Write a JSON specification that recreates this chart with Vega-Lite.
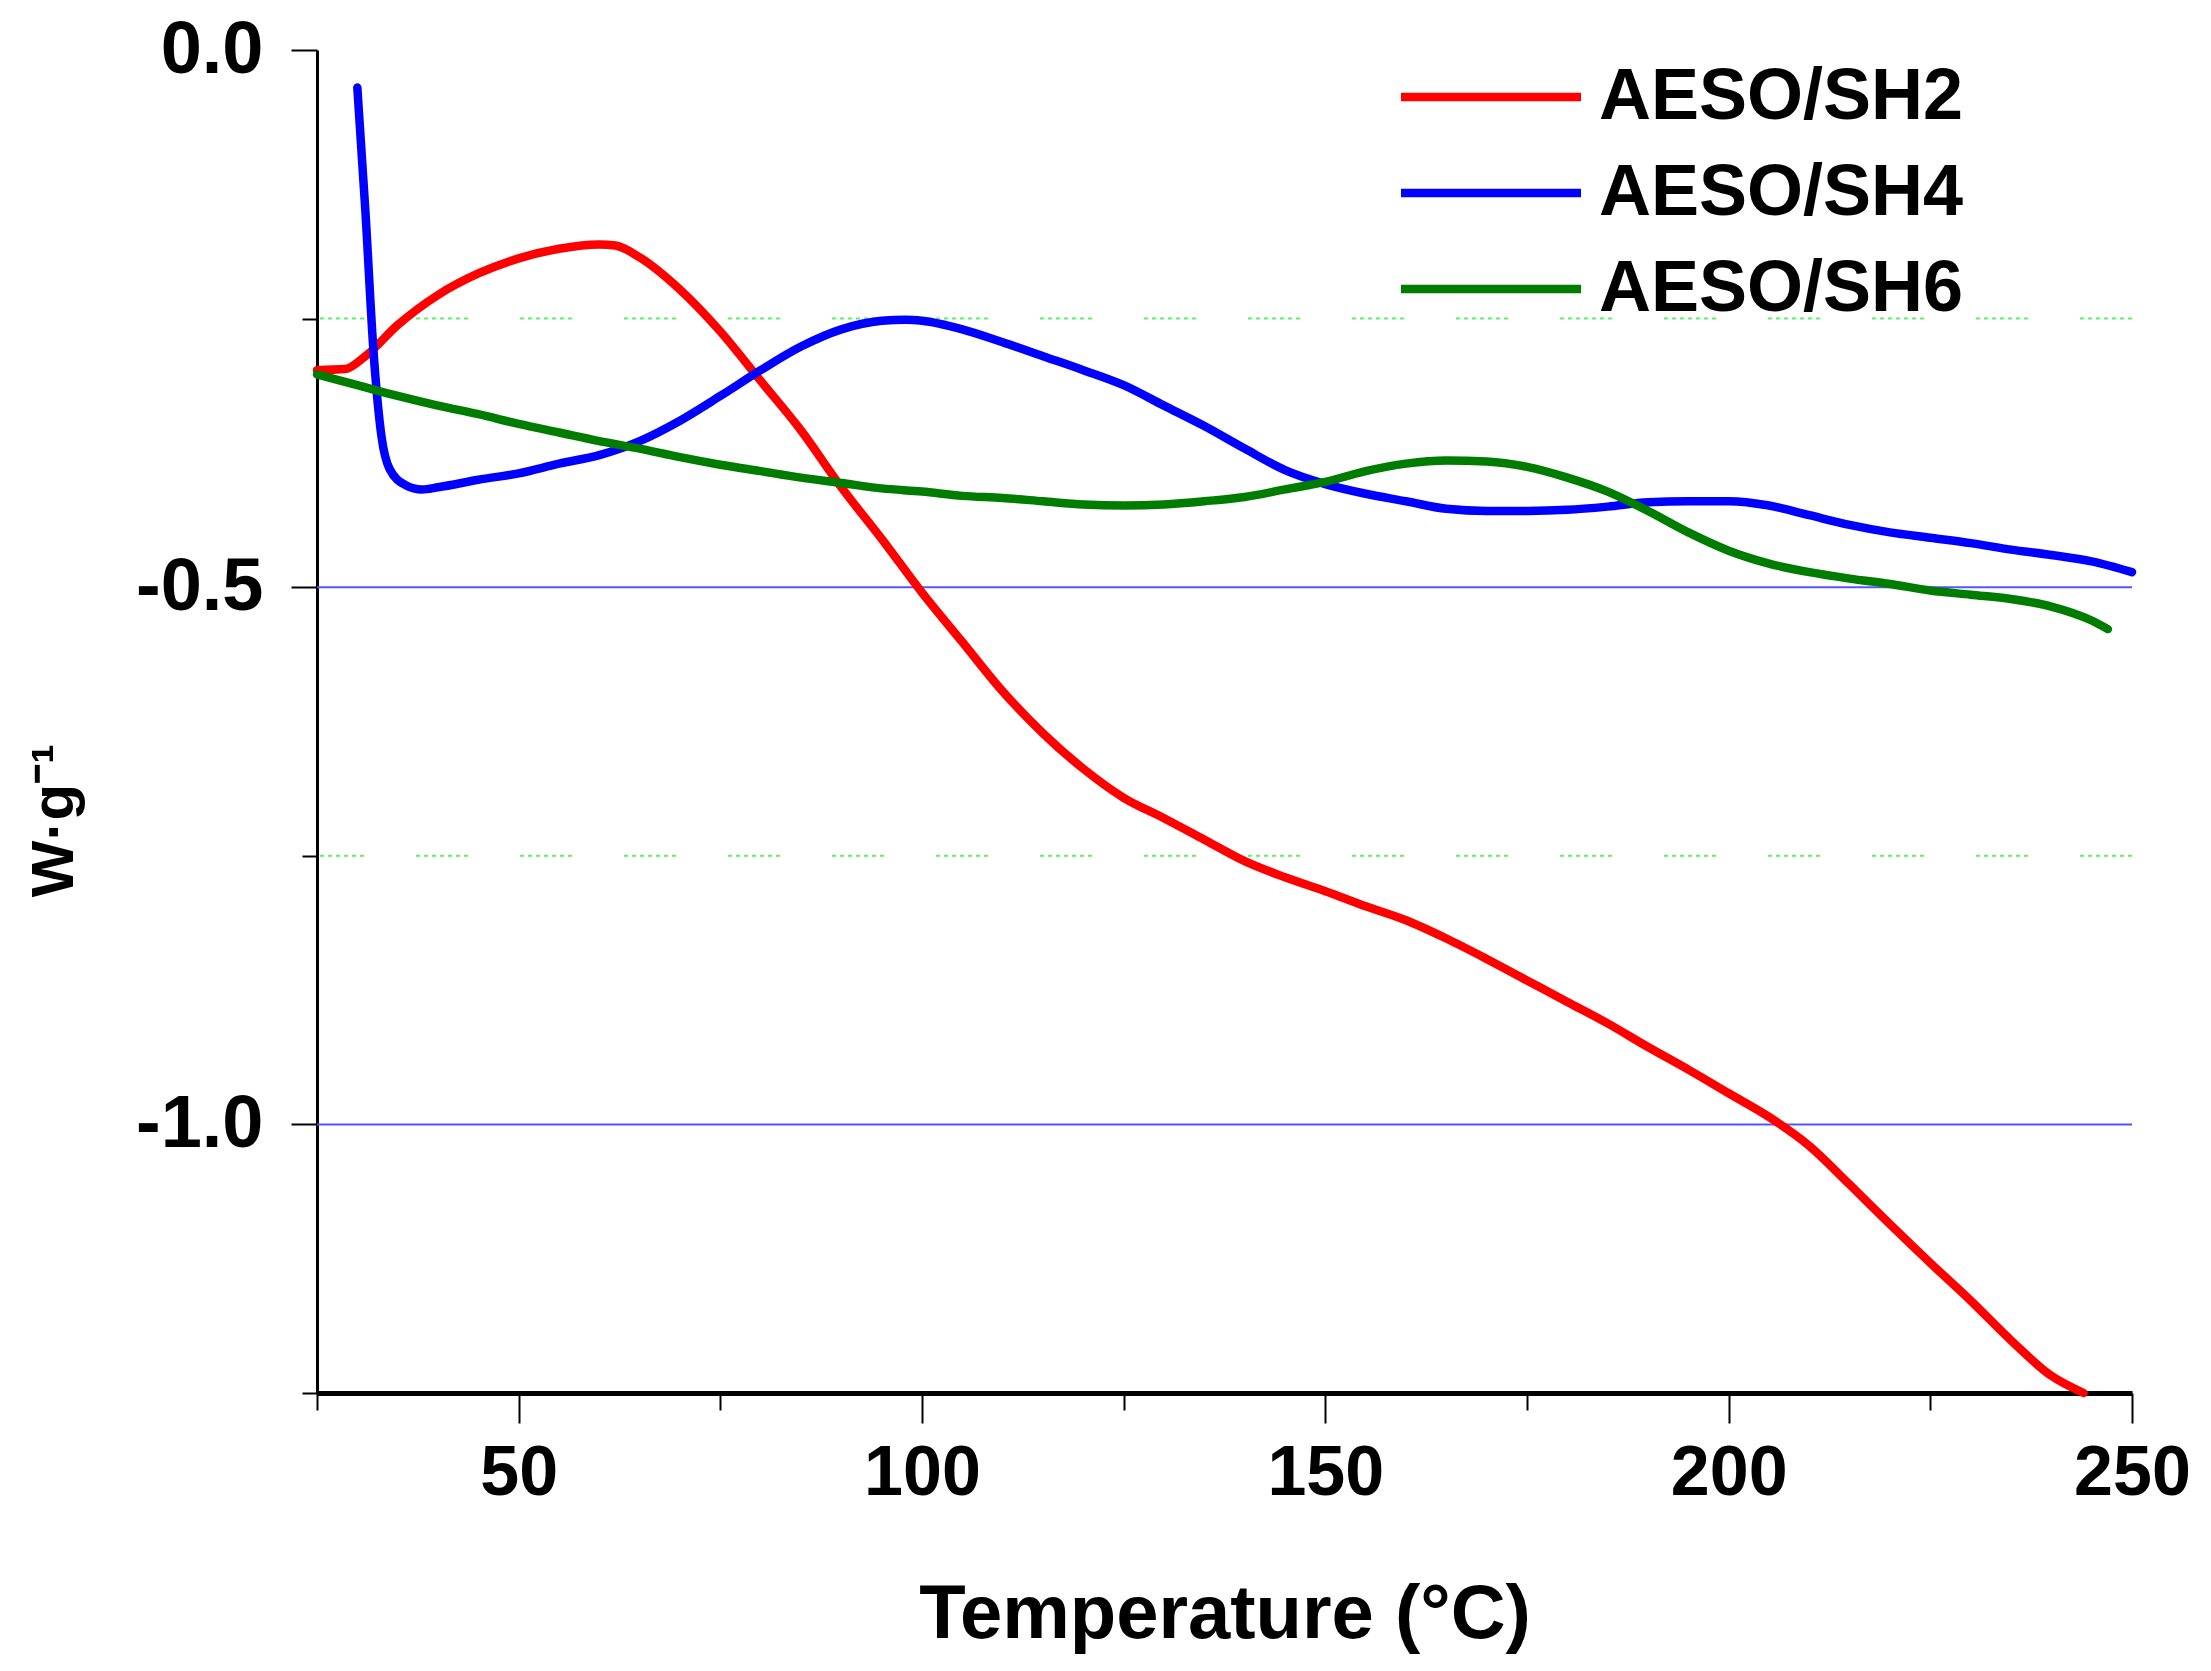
{
  "$schema": "https://vega.github.io/schema/vega-lite/v6.json",
  "width": 1815,
  "height": 1343,
  "autosize": "none",
  "padding": {"left": 317, "top": 50, "right": 79, "bottom": 278},
  "background": "white",
  "config": {"view": {"stroke": null}, "font": "Liberation Sans"},
  "datasets": {
    "major": [{"w": -0.5}, {"w": -1.0}],
    "minor": [{"w": -0.25}, {"w": -0.75}],
    "curves": [
      {"series": "AESO/SH2", "t": 25, "w": -0.298},
      {"series": "AESO/SH2", "t": 28.5, "w": -0.297},
      {"series": "AESO/SH2", "t": 31, "w": -0.285},
      {"series": "AESO/SH2", "t": 35, "w": -0.256},
      {"series": "AESO/SH2", "t": 40, "w": -0.228},
      {"series": "AESO/SH2", "t": 45, "w": -0.208},
      {"series": "AESO/SH2", "t": 50, "w": -0.194},
      {"series": "AESO/SH2", "t": 55, "w": -0.185},
      {"series": "AESO/SH2", "t": 60, "w": -0.181},
      {"series": "AESO/SH2", "t": 62, "w": -0.182},
      {"series": "AESO/SH2", "t": 65, "w": -0.193},
      {"series": "AESO/SH2", "t": 70, "w": -0.223},
      {"series": "AESO/SH2", "t": 75, "w": -0.262},
      {"series": "AESO/SH2", "t": 80, "w": -0.308},
      {"series": "AESO/SH2", "t": 85, "w": -0.354},
      {"series": "AESO/SH2", "t": 90, "w": -0.407},
      {"series": "AESO/SH2", "t": 95, "w": -0.455},
      {"series": "AESO/SH2", "t": 100, "w": -0.505},
      {"series": "AESO/SH2", "t": 105, "w": -0.551},
      {"series": "AESO/SH2", "t": 110, "w": -0.597},
      {"series": "AESO/SH2", "t": 115, "w": -0.636},
      {"series": "AESO/SH2", "t": 120, "w": -0.669},
      {"series": "AESO/SH2", "t": 125, "w": -0.696},
      {"series": "AESO/SH2", "t": 130, "w": -0.715},
      {"series": "AESO/SH2", "t": 135, "w": -0.735},
      {"series": "AESO/SH2", "t": 140, "w": -0.755},
      {"series": "AESO/SH2", "t": 145, "w": -0.770},
      {"series": "AESO/SH2", "t": 150, "w": -0.783},
      {"series": "AESO/SH2", "t": 155, "w": -0.797},
      {"series": "AESO/SH2", "t": 160, "w": -0.810},
      {"series": "AESO/SH2", "t": 165, "w": -0.827},
      {"series": "AESO/SH2", "t": 170, "w": -0.846},
      {"series": "AESO/SH2", "t": 175, "w": -0.866},
      {"series": "AESO/SH2", "t": 180, "w": -0.886},
      {"series": "AESO/SH2", "t": 185, "w": -0.906},
      {"series": "AESO/SH2", "t": 190, "w": -0.928},
      {"series": "AESO/SH2", "t": 195, "w": -0.949},
      {"series": "AESO/SH2", "t": 200, "w": -0.971},
      {"series": "AESO/SH2", "t": 205, "w": -0.993},
      {"series": "AESO/SH2", "t": 210, "w": -1.020},
      {"series": "AESO/SH2", "t": 215, "w": -1.056},
      {"series": "AESO/SH2", "t": 220, "w": -1.093},
      {"series": "AESO/SH2", "t": 225, "w": -1.129},
      {"series": "AESO/SH2", "t": 230, "w": -1.164},
      {"series": "AESO/SH2", "t": 235, "w": -1.201},
      {"series": "AESO/SH2", "t": 240, "w": -1.234},
      {"series": "AESO/SH2", "t": 244, "w": -1.25},
      {"series": "AESO/SH4", "t": 30, "w": -0.035},
      {"series": "AESO/SH4", "t": 31, "w": -0.15},
      {"series": "AESO/SH4", "t": 32, "w": -0.28},
      {"series": "AESO/SH4", "t": 33, "w": -0.36},
      {"series": "AESO/SH4", "t": 34, "w": -0.39},
      {"series": "AESO/SH4", "t": 36, "w": -0.405},
      {"series": "AESO/SH4", "t": 38, "w": -0.409},
      {"series": "AESO/SH4", "t": 40, "w": -0.407},
      {"series": "AESO/SH4", "t": 45, "w": -0.400},
      {"series": "AESO/SH4", "t": 50, "w": -0.394},
      {"series": "AESO/SH4", "t": 55, "w": -0.385},
      {"series": "AESO/SH4", "t": 60, "w": -0.377},
      {"series": "AESO/SH4", "t": 65, "w": -0.364},
      {"series": "AESO/SH4", "t": 70, "w": -0.345},
      {"series": "AESO/SH4", "t": 75, "w": -0.322},
      {"series": "AESO/SH4", "t": 80, "w": -0.298},
      {"series": "AESO/SH4", "t": 85, "w": -0.276},
      {"series": "AESO/SH4", "t": 90, "w": -0.260},
      {"series": "AESO/SH4", "t": 95, "w": -0.252},
      {"series": "AESO/SH4", "t": 98, "w": -0.251},
      {"series": "AESO/SH4", "t": 100, "w": -0.252},
      {"series": "AESO/SH4", "t": 105, "w": -0.260},
      {"series": "AESO/SH4", "t": 110, "w": -0.272},
      {"series": "AESO/SH4", "t": 115, "w": -0.285},
      {"series": "AESO/SH4", "t": 120, "w": -0.298},
      {"series": "AESO/SH4", "t": 125, "w": -0.312},
      {"series": "AESO/SH4", "t": 130, "w": -0.331},
      {"series": "AESO/SH4", "t": 135, "w": -0.350},
      {"series": "AESO/SH4", "t": 140, "w": -0.371},
      {"series": "AESO/SH4", "t": 145, "w": -0.391},
      {"series": "AESO/SH4", "t": 150, "w": -0.404},
      {"series": "AESO/SH4", "t": 155, "w": -0.413},
      {"series": "AESO/SH4", "t": 160, "w": -0.420},
      {"series": "AESO/SH4", "t": 165, "w": -0.427},
      {"series": "AESO/SH4", "t": 170, "w": -0.429},
      {"series": "AESO/SH4", "t": 175, "w": -0.429},
      {"series": "AESO/SH4", "t": 180, "w": -0.428},
      {"series": "AESO/SH4", "t": 185, "w": -0.425},
      {"series": "AESO/SH4", "t": 190, "w": -0.421},
      {"series": "AESO/SH4", "t": 195, "w": -0.420},
      {"series": "AESO/SH4", "t": 200, "w": -0.420},
      {"series": "AESO/SH4", "t": 205, "w": -0.424},
      {"series": "AESO/SH4", "t": 210, "w": -0.433},
      {"series": "AESO/SH4", "t": 215, "w": -0.442},
      {"series": "AESO/SH4", "t": 220, "w": -0.449},
      {"series": "AESO/SH4", "t": 225, "w": -0.454},
      {"series": "AESO/SH4", "t": 230, "w": -0.459},
      {"series": "AESO/SH4", "t": 235, "w": -0.465},
      {"series": "AESO/SH4", "t": 240, "w": -0.470},
      {"series": "AESO/SH4", "t": 245, "w": -0.476},
      {"series": "AESO/SH4", "t": 250, "w": -0.486},
      {"series": "AESO/SH6", "t": 25, "w": -0.302},
      {"series": "AESO/SH6", "t": 30, "w": -0.312},
      {"series": "AESO/SH6", "t": 35, "w": -0.322},
      {"series": "AESO/SH6", "t": 40, "w": -0.331},
      {"series": "AESO/SH6", "t": 45, "w": -0.339},
      {"series": "AESO/SH6", "t": 50, "w": -0.348},
      {"series": "AESO/SH6", "t": 55, "w": -0.356},
      {"series": "AESO/SH6", "t": 60, "w": -0.364},
      {"series": "AESO/SH6", "t": 65, "w": -0.371},
      {"series": "AESO/SH6", "t": 70, "w": -0.379},
      {"series": "AESO/SH6", "t": 75, "w": -0.386},
      {"series": "AESO/SH6", "t": 80, "w": -0.392},
      {"series": "AESO/SH6", "t": 85, "w": -0.398},
      {"series": "AESO/SH6", "t": 90, "w": -0.403},
      {"series": "AESO/SH6", "t": 95, "w": -0.408},
      {"series": "AESO/SH6", "t": 100, "w": -0.411},
      {"series": "AESO/SH6", "t": 105, "w": -0.415},
      {"series": "AESO/SH6", "t": 110, "w": -0.417},
      {"series": "AESO/SH6", "t": 115, "w": -0.420},
      {"series": "AESO/SH6", "t": 120, "w": -0.423},
      {"series": "AESO/SH6", "t": 125, "w": -0.424},
      {"series": "AESO/SH6", "t": 130, "w": -0.423},
      {"series": "AESO/SH6", "t": 135, "w": -0.420},
      {"series": "AESO/SH6", "t": 140, "w": -0.416},
      {"series": "AESO/SH6", "t": 145, "w": -0.409},
      {"series": "AESO/SH6", "t": 150, "w": -0.402},
      {"series": "AESO/SH6", "t": 155, "w": -0.392},
      {"series": "AESO/SH6", "t": 160, "w": -0.385},
      {"series": "AESO/SH6", "t": 165, "w": -0.382},
      {"series": "AESO/SH6", "t": 170, "w": -0.383},
      {"series": "AESO/SH6", "t": 175, "w": -0.388},
      {"series": "AESO/SH6", "t": 180, "w": -0.398},
      {"series": "AESO/SH6", "t": 185, "w": -0.411},
      {"series": "AESO/SH6", "t": 190, "w": -0.429},
      {"series": "AESO/SH6", "t": 195, "w": -0.449},
      {"series": "AESO/SH6", "t": 200, "w": -0.466},
      {"series": "AESO/SH6", "t": 205, "w": -0.478},
      {"series": "AESO/SH6", "t": 210, "w": -0.486},
      {"series": "AESO/SH6", "t": 215, "w": -0.492},
      {"series": "AESO/SH6", "t": 220, "w": -0.497},
      {"series": "AESO/SH6", "t": 225, "w": -0.503},
      {"series": "AESO/SH6", "t": 230, "w": -0.507},
      {"series": "AESO/SH6", "t": 235, "w": -0.511},
      {"series": "AESO/SH6", "t": 240, "w": -0.518},
      {"series": "AESO/SH6", "t": 245, "w": -0.531},
      {"series": "AESO/SH6", "t": 247, "w": -0.539}
    ]
  },
  "encoding": {
    "y": {
      "field": "w",
      "type": "quantitative",
      "scale": {"domain": [-1.25, 0], "nice": false, "zero": false},
      "axis": {
        "title": "W·g⁻¹",
        "titleFontSize": 60,
        "titleFontWeight": "bold",
        "titleColor": "black",
        "titleX": -232,
        "titleY": 770,
        "titleAngle": -90,
        "titleBaseline": "bottom",
        "values": [0, -0.25, -0.5, -0.75, -1, -1.25],
        "labelExpr": "datum.value === 0 || datum.value === -0.5 || datum.value === -1 ? replace(format(datum.value, '.1f'), '−', '-') : ''",
        "labelFontSize": 74,
        "labelFontWeight": "bold",
        "labelColor": "black",
        "labelPadding": 28,
        "tickSize": {"condition": {"test": "datum.value === 0 || datum.value === -0.5 || datum.value === -1", "value": 26}, "value": 15},
        "tickColor": "black",
        "tickWidth": 2,
        "domainColor": "black",
        "domainWidth": 3,
        "grid": false
      }
    }
  },
  "layer": [
    {
      "data": {"name": "minor"},
      "mark": {"type": "rule", "color": "#66ee66", "strokeWidth": 2, "strokeDash": [4, 4, 4, 4, 4, 4, 4, 4, 4, 4, 4, 4, 4, 52]}
    },
    {
      "data": {"name": "major"},
      "mark": {"type": "rule", "color": "#5555ff", "strokeWidth": 2}
    },
    {
      "data": {"name": "curves"},
      "mark": {"type": "line", "strokeWidth": 8.5, "interpolate": "monotone", "strokeCap": "round"},
      "encoding": {
        "x": {
          "field": "t",
          "type": "quantitative",
          "scale": {"domain": [25, 250], "nice": false, "zero": false},
          "axis": {
            "title": "Temperature (°C)",
            "titleFontSize": 76,
            "titleFontWeight": "bold",
            "titleColor": "black",
            "titleY": 244,
            "titleBaseline": "alphabetic",
            "values": [25, 50, 75, 100, 125, 150, 175, 200, 225, 250],
            "labelExpr": "datum.value % 50 === 0 ? datum.value : ''",
            "labelFontSize": 70,
            "labelFontWeight": "bold",
            "labelColor": "black",
            "labelPadding": 16,
            "labelFlush": false,
            "labelOverlap": false,
            "tickSize": {"condition": {"test": "datum.value % 50 === 0", "value": 30}, "value": 17},
            "tickColor": "black",
            "tickWidth": 2,
            "domainColor": "black",
            "domainWidth": 5,
            "grid": false
          }
        },
        "color": {
          "field": "series",
          "type": "nominal",
          "scale": {"domain": ["AESO/SH2", "AESO/SH4", "AESO/SH6"], "range": ["#ff0000", "#0000ff", "#007c00"]},
          "legend": {
            "orient": "none",
            "legendX": 1138,
            "legendY": 11,
            "title": null,
            "padding": 0,
            "symbolType": "M-5,0H5",
            "symbolSize": 1296,
            "symbolStrokeWidth": 8.5,
            "symbolStrokeCap": "round",
            "labelFontSize": 72,
            "labelFontWeight": "bold",
            "labelColor": "black",
            "labelLimit": 800,
            "labelOffset": 72,
            "rowPadding": 24
          }
        }
      }
    }
  ]
}
